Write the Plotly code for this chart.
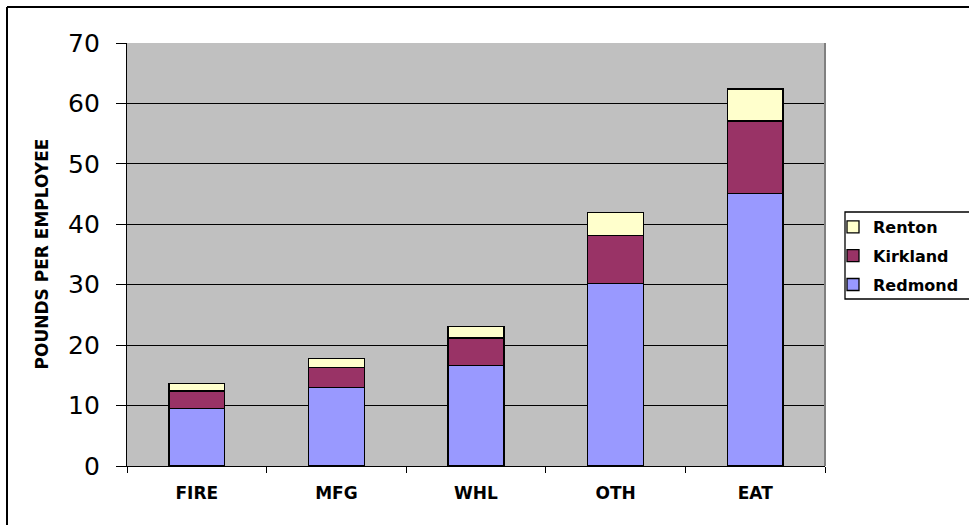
import plotly.graph_objects as go

categories = ["FIRE", "MFG", "WHL", "OTH", "EAT"]
redmond = [9.5, 13.0, 16.6, 30.2, 45.1]
kirkland = [2.9, 3.3, 4.6, 8.0, 12.0]
renton = [1.2, 1.5, 1.9, 3.8, 5.3]
y_ticks = [0, 10, 20, 30, 40, 50, 60, 70]

W, H = 969, 525
L, R, T, B = 127, 144, 43, 59
PW, PH = W - L - R, H - T - B


def px_x(px):
    return (px - L) / PW


def px_y(py):
    return (H - B - py) / PH


FONT = "DejaVu Sans"

fig = go.Figure()
series = [("Redmond", redmond, "#9999FF", 3),
          ("Kirkland", kirkland, "#993366", 2),
          ("Renton", renton, "#FFFFCC", 1)]
for name, vals, col, rank in series:
    fig.add_trace(go.Bar(
        x=categories, y=vals, name=name, legendgroup=name, legendrank=rank,
        marker=dict(color=col, line=dict(color="black", width=1.3)),
    ))

shapes = [
    # outer chart border (top + left)
    dict(type="line", xref="paper", yref="paper", x0=px_x(7), x1=px_x(975),
         y0=px_y(7), y1=px_y(7), line=dict(color="black", width=2)),
    dict(type="line", xref="paper", yref="paper", x0=px_x(7), x1=px_x(7),
         y0=px_y(7), y1=px_y(530), line=dict(color="black", width=2)),
    # plot area border right (gray)
    dict(type="line", xref="paper", yref="paper", x0=1, x1=1, y0=0, y1=1,
         line=dict(color="#808080", width=2)),
    # legend box
    dict(type="rect", xref="paper", yref="paper", x0=px_x(845), x1=px_x(980),
         y0=px_y(299), y1=px_y(212), line=dict(color="black", width=1.3),
         fillcolor="rgba(0,0,0,0)", layer="below"),
]

fig.update_layout(
    width=W, height=H,
    margin=dict(l=L, r=R, t=T, b=B, pad=0, autoexpand=False),
    paper_bgcolor="white",
    plot_bgcolor="#C0C0C0",
    barmode="stack",
    bargap=0.6,
    font=dict(family=FONT, color="black"),
    showlegend=True,
    legend=dict(
        x=px_x(833), xanchor="left", y=px_y(210), yanchor="top",
        traceorder="grouped", tracegroupgap=5,
        bgcolor="rgba(0,0,0,0)", borderwidth=0,
        font=dict(family=FONT, size=16, color="black", weight="bold"),
    ),
    xaxis=dict(
        type="category", showline=True, linecolor="black", linewidth=1.3,
        ticks="outside", tickson="boundaries", ticklen=6, tickcolor="black",
        tickwidth=1.3, showgrid=False,
        tickfont=dict(family=FONT, size=17, color="black", weight="bold"),
        ticklabelstandoff=11,
    ),
    yaxis=dict(
        range=[0, 70], tickvals=y_ticks, showline=True, linecolor="black",
        linewidth=1.3, ticks="outside", ticklen=10, tickcolor="black",
        tickwidth=1.3, showgrid=True, gridcolor="black", gridwidth=1.3,
        zeroline=False,
        tickfont=dict(family=FONT, size=25, color="black"),
        ticklabelstandoff=11,
    ),
    shapes=shapes,
    annotations=[dict(
        text="<b>POUNDS PER EMPLOYEE</b>", textangle=-90,
        xref="paper", yref="paper", x=px_x(41), y=0.5,
        xanchor="center", yanchor="middle", showarrow=False,
        font=dict(family=FONT, size=17, color="black"),
    )],
)

fig.write_html("out.html")
